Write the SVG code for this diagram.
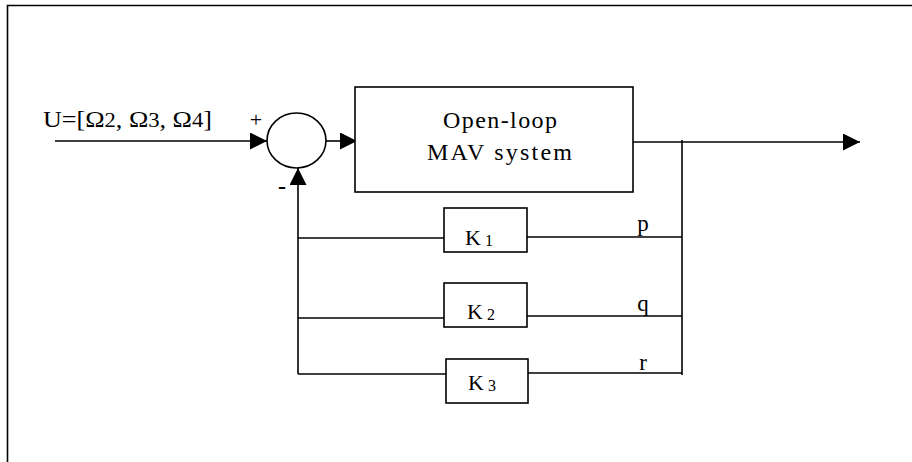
<svg xmlns="http://www.w3.org/2000/svg" width="912" height="462" viewBox="0 0 912 462">
<style>
.ln{fill:none;stroke:#000;stroke-width:1.6}
.bx{fill:#fff;stroke:#000;stroke-width:1.6}
.t{font-family:"Liberation Serif","Times New Roman",serif;fill:#000}
</style>
<defs>
<marker id="ah" markerUnits="userSpaceOnUse" markerWidth="18" markerHeight="18" refX="17" refY="8.5" orient="auto">
<path d="M0,0 L17,8.5 L0,17 Z" fill="#000"/>
</marker>
</defs>
<rect width="912" height="462" fill="#fff"/>
<path class="ln" d="M7.5,462 V5.5 H912"/>
<g id="connectors">
<line class="ln" x1="55" y1="141" x2="267" y2="141" marker-end="url(#ah)"/>
<line class="ln" x1="326" y1="141" x2="357" y2="141" marker-end="url(#ah)"/>
<line class="ln" x1="629" y1="142" x2="860" y2="142" marker-end="url(#ah)"/>
<line class="ln" x1="682" y1="140" x2="682" y2="375"/>
<line class="ln" x1="527" y1="237" x2="682" y2="237"/>
<line class="ln" x1="527" y1="316" x2="682" y2="316"/>
<line class="ln" x1="528" y1="373" x2="682" y2="373"/>
<line class="ln" x1="298" y1="238" x2="444" y2="238"/>
<line class="ln" x1="298" y1="318" x2="444" y2="318"/>
<line class="ln" x1="298" y1="374" x2="446" y2="374"/>
<line class="ln" x1="298" y1="374" x2="298" y2="168" marker-end="url(#ah)"/>
</g>
<g id="sum">
<ellipse class="bx" cx="296.5" cy="140.5" rx="29.5" ry="27.5"/>
<text class="t" x="256" y="127" font-size="22" text-anchor="middle">+</text>
<text class="t" x="282" y="194" font-size="24" font-weight="bold" text-anchor="middle">-</text>
</g>
<g id="input-label">
<text class="t" x="43" y="127" font-size="23" textLength="169" lengthAdjust="spacingAndGlyphs">U=[Ω<tspan font-size="20">2</tspan>, Ω<tspan font-size="20">3</tspan>, Ω<tspan font-size="20">4</tspan>]</text>
</g>
<g id="mav">
<rect class="bx" x="355" y="87" width="278" height="105"/>
<text class="t" x="443" y="128" font-size="24" textLength="114" lengthAdjust="spacing">Open-loop</text>
<text class="t" x="427" y="160" font-size="24" textLength="145" lengthAdjust="spacing">MAV system</text>
</g>
<g id="k1">
<rect class="bx" x="444" y="208" width="83" height="44"/>
<text class="t" x="465" y="245" font-size="22">K<tspan font-size="16" dx="4" dy="1">1</tspan></text>
</g>
<g id="k2">
<rect class="bx" x="444" y="283" width="83" height="44"/>
<text class="t" x="467" y="319" font-size="22">K<tspan font-size="16" dx="4" dy="1">2</tspan></text>
</g>
<g id="k3">
<rect class="bx" x="446" y="359" width="82" height="44"/>
<text class="t" x="468" y="390" font-size="22">K<tspan font-size="16" dx="4" dy="1">3</tspan></text>
</g>
<g id="labels">
<text class="t" x="643" y="231" font-size="23" text-anchor="middle">p</text>
<text class="t" x="643" y="311" font-size="23" text-anchor="middle">q</text>
<text class="t" x="643" y="370" font-size="23" text-anchor="middle">r</text>
</g>
</svg>
